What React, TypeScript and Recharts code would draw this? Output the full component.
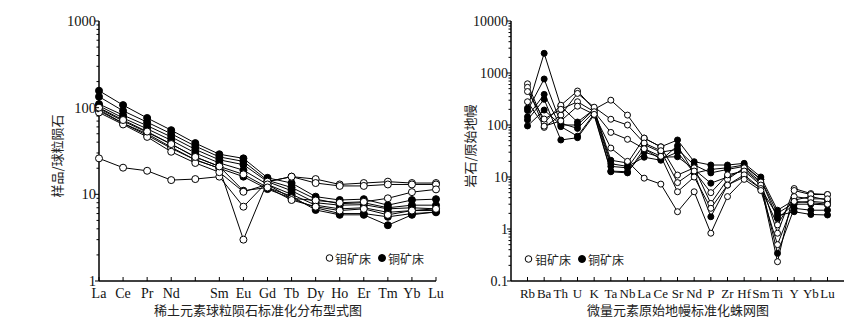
import React from 'react';
import { LineChart, Line, XAxis, YAxis } from 'recharts';

// ---------- Left panel: REE chondrite-normalised ----------
const reeElements = ['La', 'Ce', 'Pr', 'Nd', 'Pm', 'Sm', 'Eu', 'Gd', 'Tb', 'Dy', 'Ho', 'Er', 'Tm', 'Yb', 'Lu'];
const reeTickLabels = ['La', 'Ce', 'Pr', 'Nd', '', 'Sm', 'Eu', 'Gd', 'Tb', 'Dy', 'Ho', 'Er', 'Tm', 'Yb', 'Lu'];
const reeMo1 = [26, 20.3, 18.7, 14.6, 15, 16, 7.2, 14, 16, 15, 13, 13.5, 14, 13.5, 13.5];
const reeMo2 = [92, 66, 48, 34, 25, 20, 3, 14, 16, 13.5, 12.5, 12.5, 13, 13, 13];
const reeMo3 = [88, 64, 46, 31, 23, 18, 10.7, 13, 9, 8.5, 8, 8.2, 9, 10.6, 11.4];
const reeMo4 = [100, 72, 53, 38, 27, 21, 17, 12, 8.6, 7.2, 6.5, 6.8, 5.8, 6.5, 6.8];
const reeCu1 = [157, 107, 76, 55, 39, 29, 26, 15.5, 13.5, 9.4, 8.6, 8.8, 7.5, 8.6, 8.8];
const reeCu2 = [134, 92, 68, 50, 36, 27, 24, 14.5, 12, 8.8, 7.8, 8, 7, 7.5, 7.5];
const reeCu3 = [110, 82, 62, 46, 33, 25, 22, 14, 11, 8, 7.5, 7.6, 6.8, 7, 6.8];
const reeCu4 = [105, 76, 57, 42, 30, 23, 19, 13, 10, 7.5, 6.8, 7, 6.2, 6.5, 6.5];
const reeCu5 = [98, 70, 52, 38, 27, 21, 11, 12, 9.5, 6.6, 5.8, 5.8, 4.4, 5.8, 6.3];
const reeCu6 = [95, 66, 50, 35, 25, 20, 16, 11.5, 9, 7, 6, 6, 5.5, 6, 6.2];
const reeMajorTicks = [1, 10, 100, 1000];

// ---------- Right panel: trace elements primitive-mantle-normalised ----------
const traceElements = ['Rb', 'Ba', 'Th', 'U', 'K', 'Ta', 'Nb', 'La', 'Ce', 'Sr', 'Nd', 'P', 'Zr', 'Hf', 'Sm', 'Ti', 'Y', 'Yb', 'Lu'];
const traceMo1 = [620, 110, 240, 450, 200, 300, 155, 56, 38, 10.9, 15, 3.1, 9, 15, 8, 0.83, 6, 4.8, 4.6];
const traceMo2 = [530, 90, 155, 405, 220, 129, 100, 45, 32, 7.8, 13, 5, 11, 13, 7, 0.235, 5.5, 4.6, 4.6];
const traceMo3 = [440, 130, 200, 280, 180, 72, 53, 35, 25, 5.2, 10, 2.5, 7, 11, 6, 1.2, 4.2, 3.8, 3.8];
const traceMo4 = [280, 95, 120, 230, 160, 36, 20, 9.5, 7.3, 2.15, 5.2, 0.83, 4.2, 9, 5.5, 0.5, 3.4, 3.2, 3];
const traceCu1 = [211, 2390, 230, 114, 200, 21, 18.6, 56, 38, 51.5, 19.7, 17, 17, 18.3, 10, 2.3, 3.6, 4.2, 3.6];
const traceCu2 = [190, 767, 108, 86, 180, 16, 15, 42, 30, 34, 17, 12, 14, 16, 9, 1.6, 3, 3, 2.9];
const traceCu3 = [144, 388, 93, 61, 165, 13, 12.6, 30, 24, 24.5, 14, 7.6, 10, 14, 7.5, 0.34, 2.5, 2.3, 2.3];
const traceCu4 = [125, 312, 51.5, 57, 155, 12.6, 12, 35, 22, 30, 12, 1.72, 7, 10, 6, 1.8, 2.15, 1.9, 1.86];
const traceCu5 = [96, 194, 100, 100, 200, 18, 16, 24, 21, 40, 11.8, 14, 15, 17, 9, 2, 3.2, 3.4, 3.2];
const traceMajorTicks = [0.1, 1, 10, 100, 1000, 10000];

const reeMo = [reeMo1, reeMo2, reeMo3, reeMo4];
const reeCu = [reeCu1, reeCu2, reeCu3, reeCu4, reeCu5, reeCu6];
const traceMo = [traceMo1, traceMo2, traceMo3, traceMo4];
const traceCu = [traceCu1, traceCu2, traceCu3, traceCu4, traceCu5];

const buildRows = (cats: string[], mo: number[][], cu: number[][]) =>
  cats.map((c, i) => {
    const row: any = { el: c };
    mo.forEach((s, k) => (row['mo' + k] = s[i]));
    cu.forEach((s, k) => (row['cu' + k] = s[i]));
    return row;
  });

const withMinors = (majors: number[]) => {
  const out: number[] = [];
  majors.forEach((m, i) => {
    out.push(m);
    if (i < majors.length - 1) for (let k = 2; k <= 9; k++) out.push(m * k);
  });
  return out;
};

const reeRows = buildRows(reeElements, reeMo, reeCu);
const traceRows = buildRows(traceElements, traceMo, traceCu);

const SERIF = '"Liberation Serif", "Times New Roman", serif';
const CJK = '"Noto Sans CJK SC", sans-serif';

const makeYTick = (majors: number[], fs: number) => (props: any) => {
  const { x, y, payload } = props;
  const v = payload.value;
  const idx = majors.findIndex((m) => Math.abs(m - v) / m < 1e-6);
  const major = idx >= 0;
  return (
    <g>
      <line x1={x} x2={x - (major ? 4 : 2.5)} y1={y} y2={y} stroke="#000" strokeWidth={1} />
      {major && (
        <text x={x - 3} y={y} textAnchor="end" dominantBaseline="central" fontFamily={SERIF} fontSize={fs} fill="#111">
          {String(majors[idx])}
        </text>
      )}
    </g>
  );
};

const makeXTick = (cats: string[], labels: string[], fs: number) => (props: any) => {
  const { x, y, payload } = props;
  const i = cats.indexOf(payload.value);
  return (
    <g>
      <line x1={x} x2={x} y1={y} y2={y - 4} stroke="#000" strokeWidth={1} />
      <text x={x} y={y + 17} textAnchor="middle" fontFamily={SERIF} fontSize={fs} fill="#111">
        {labels[i]}
      </text>
    </g>
  );
};

const renderSeries = (nMo: number, nCu: number, r: number) => {
  const items: any[] = [];
  for (let k = 0; k < nCu; k++)
    items.push(
      <Line key={'cu' + k} dataKey={'cu' + k} stroke="#000" strokeWidth={1} isAnimationActive={false}
        dot={{ r, fill: '#000', stroke: '#000', strokeWidth: 1 }} activeDot={false} connectNulls />
    );
  for (let k = 0; k < nMo; k++)
    items.push(
      <Line key={'mo' + k} dataKey={'mo' + k} stroke="#000" strokeWidth={1} isAnimationActive={false}
        dot={{ r, fill: '#fff', stroke: '#000', strokeWidth: 1 }} activeDot={false} connectNulls />
    );
  return items;
};

export default function App() {
  return (
    <div style={{ position: 'absolute', left: 0, top: 0, width: 862, height: 335, background: '#fff' }}>
      <div style={{ position: 'absolute', left: 0, top: 0 }}>
        <LineChart width={452} height={335} data={reeRows} margin={{ top: 21, right: 16, bottom: 0, left: 0 }}>
          <XAxis dataKey="el" scale="point" padding={{ left: 0, right: 0 }} height={54} interval={0}
            tickSize={0} tickMargin={0} tickLine={false} axisLine={{ stroke: '#000', strokeWidth: 1.5 }}
            tick={makeXTick(reeElements, reeTickLabels, 14)} />
          <XAxis xAxisId="top" dataKey="el" orientation="top" height={0} tick={false} tickLine={false}
            axisLine={{ stroke: '#808080', strokeWidth: 2 }} />
          <YAxis scale="log" type="number" domain={[1, 1000]} allowDataOverflow width={99} interval={0}
            ticks={withMinors(reeMajorTicks)} tickSize={0} tickMargin={0} tickLine={false}
            axisLine={{ stroke: '#000', strokeWidth: 1.5 }} tick={makeYTick(reeMajorTicks, 14.5)} />
          <YAxis yAxisId="r" orientation="right" width={0} tick={false} tickLine={false} domain={[0, 1]}
            axisLine={{ stroke: '#000', strokeWidth: 1.5 }} />
          {renderSeries(reeMo.length, reeCu.length, 3.5)}
        </LineChart>
      </div>
      <div style={{ position: 'absolute', left: 452, top: 0 }}>
        <LineChart width={410} height={335} data={traceRows} margin={{ top: 21, right: 18, bottom: 0, left: 0 }}>
          <XAxis dataKey="el" scale="point" padding={{ left: 16.5, right: 16.5 }} height={54} interval={0}
            tickSize={0} tickMargin={0} tickLine={false} axisLine={{ stroke: '#000', strokeWidth: 1.5 }}
            tick={makeXTick(traceElements, traceElements, 13)} />
          <XAxis xAxisId="top" dataKey="el" orientation="top" height={0} tick={false} tickLine={false}
            axisLine={{ stroke: '#808080', strokeWidth: 2 }} />
          <YAxis scale="log" type="number" domain={[0.1, 10000]} allowDataOverflow width={59} interval={0}
            ticks={withMinors(traceMajorTicks)} tickSize={0} tickMargin={0} tickLine={false}
            axisLine={{ stroke: '#000', strokeWidth: 1.5 }} tick={makeYTick(traceMajorTicks, 14)} />
          <YAxis yAxisId="r" orientation="right" width={0} tick={false} tickLine={false} domain={[0, 1]}
            axisLine={{ stroke: '#808080', strokeWidth: 1.5 }} />
          {renderSeries(traceMo.length, traceCu.length, 3)}
        </LineChart>
      </div>
      <svg width={862} height={335} style={{ position: 'absolute', left: 0, top: 0, pointerEvents: 'none' }}>
        <text x={258} y={315} textAnchor="middle" fontFamily={CJK} fontSize={13} fill="#222">稀土元素球粒陨石标准化分布型式图</text>
        <text x={678} y={315} textAnchor="middle" fontFamily={CJK} fontSize={13} fill="#222">微量元素原始地幔标准化蛛网图</text>
        <text x={56} y={156} transform="rotate(-90 56 156)" textAnchor="middle" dominantBaseline="central" fontFamily={CJK} fontSize={13} fill="#222">样品/球粒陨石</text>
        <text x={469} y={146} transform="rotate(-90 469 146)" textAnchor="middle" dominantBaseline="central" fontFamily={CJK} fontSize={13} fill="#222">岩石/原始地幔</text>
        <circle cx={329.5} cy={258} r={3.3} fill="#fff" stroke="#000" strokeWidth={1} />
        <text x={335} y={258} dominantBaseline="central" fontFamily={CJK} fontSize={12} fill="#222">钼矿床</text>
        <circle cx={382} cy={258} r={3.5} fill="#000" stroke="#000" strokeWidth={1} />
        <text x={388} y={258} dominantBaseline="central" fontFamily={CJK} fontSize={12} fill="#222">铜矿床</text>
        <circle cx={528.5} cy={259} r={3.3} fill="#fff" stroke="#000" strokeWidth={1} />
        <text x={535} y={259} dominantBaseline="central" fontFamily={CJK} fontSize={12} fill="#222">钼矿床</text>
        <circle cx={582} cy={259} r={3.5} fill="#000" stroke="#000" strokeWidth={1} />
        <text x={588} y={259} dominantBaseline="central" fontFamily={CJK} fontSize={12} fill="#222">铜矿床</text>
      </svg>
    </div>
  );
}
